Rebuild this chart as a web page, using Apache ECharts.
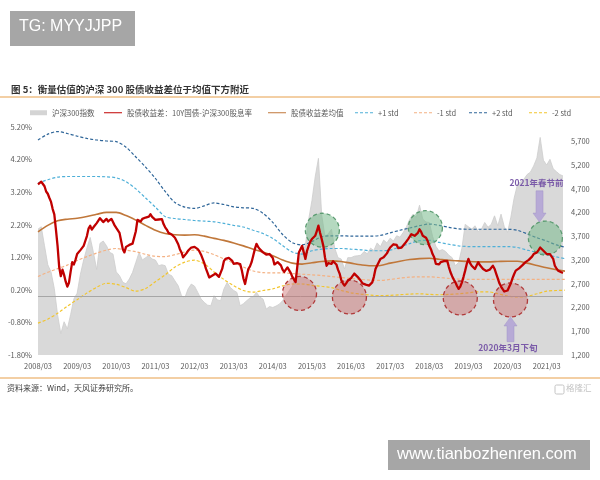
<!DOCTYPE html>
<html><head><meta charset="utf-8">
<script src="https://cdn.jsdelivr.net/npm/echarts@6/dist/echarts.min.js"></script>
<style>html,body{margin:0;padding:0;background:#fff}#c{width:600px;height:480px}</style>
</head><body><div id="c"></div>
<script>
// x values are months counted from 2008/03
const xTickLabels = ['2008/03','2009/03','2010/03','2011/03','2012/03','2013/03','2014/03','2015/03','2016/03','2017/03','2018/03','2019/03','2020/03','2021/03'];
const xMax = 161;

// 沪深300指数, monthly from 2008/03
const indexStep = 1;
const indexValues = [
3850,3900,3500,3100,2950,2600,2050,1650,1900,1750,2050,2380,2500,2900,3200,3450,3675,3360,3000,3550,
3600,3500,3360,3325,2950,2870,2730,2700,2800,2940,3150,3360,3200,3250,3290,3220,3200,3080,3100,
3080,2900,2870,2760,2657,2450,2400,2588,2693,2650,2518,2380,2307,2250,2237,2448,2360,2343,2588,2728,
2620,2560,2518,2237,2280,2343,2400,2430,2518,2420,2378,2167,2220,2200,2230,2270,2343,2450,
2550,2650,2870,3200,3400,3500,4050,4450,4950,5340,4150,3700,3750,3850,3450,3250,3220,3010,3250,3250,
3280,3290,3300,3380,3330,3450,3400,3560,3480,3620,3560,3660,3600,3710,3680,3780,3900,4060,4165,4100,
4354,4060,4000,3990,3700,3490,3390,3420,3380,3300,3250,3080,3150,
3450,3950,3900,3850,3920,3800,3850,3990,3890,3950,4130,3920,4165,3900,3780,4100,4500,4780,4850,4900,
5000,5050,5180,5350,5780,5300,5200,5320,5120,5060,5000,4970
];

// 股债收益差（%）, half-monthly from 2008/03
const spreadStep = 0.5;
const spreadValues = [
3.44,3.40,3.52,3.50,3.38,3.22,3.15,3.02,2.90,2.68,
2.52,2.05,1.55,0.90,0.62,0.82,0.66,0.45,0.30,0.42,
0.75,1.05,0.98,1.12,1.30,1.25,1.42,1.38,1.55,1.70,
1.85,2.08,2.17,2.05,2.12,2.08,2.25,2.30,2.40,2.35,
2.28,2.34,2.38,2.30,2.36,2.38,2.28,2.18,2.10,2.05,
1.95,1.70,1.45,1.35,1.52,1.48,1.58,1.55,1.62,1.68,
2.00,2.35,2.40,2.30,2.38,2.32,2.42,2.48,2.45,2.52,
2.44,2.40,2.35,2.30,2.36,2.32,2.37,2.22,2.12,2.05,
1.95,1.92,1.90,1.85,1.80,1.70,1.60,1.45,1.35,1.20,
1.22,1.32,1.40,1.45,1.50,1.55,1.52,1.48,1.45,1.38,
1.28,1.15,1.02,0.85,0.72,0.58,0.56,0.64,0.60,0.70,
0.66,0.60,0.65,0.85,1.08,1.15,1.10,1.18,1.20,1.10,
1.00,0.94,1.02,0.96,0.99,0.80,0.55,0.38,0.62,0.84,
0.92,1.05,1.25,1.45,1.61,1.52,1.45,1.40,1.35,1.30,
1.28,1.22,1.30,1.25,1.18,0.98,0.94,1.05,1.00,0.95,
0.82,0.75,0.80,0.89,0.85,0.72,0.60,0.54,0.44,0.90,
1.35,1.45,1.55,1.35,1.15,1.40,1.55,1.68,1.76,1.70,
1.86,2.00,2.17,1.95,1.76,1.55,1.20,0.94,1.02,0.96,
1.00,1.08,1.05,0.98,0.82,0.70,0.50,0.40,0.33,0.40,
0.48,0.52,0.56,0.62,0.70,0.74,0.60,0.54,0.48,0.40,
0.38,0.36,0.34,0.33,0.38,0.43,0.60,0.84,0.95,1.05,
1.15,1.12,1.20,1.25,1.32,1.42,1.50,1.55,1.60,1.66,
1.58,1.48,1.45,1.50,1.55,1.62,1.68,1.76,1.82,1.91,
1.88,1.86,1.86,1.95,2.06,1.98,1.86,1.85,1.80,1.70,
1.55,1.45,1.30,1.20,1.00,0.94,0.98,1.05,1.02,1.08,
1.05,1.09,0.90,0.74,0.62,0.52,0.43,0.32,0.23,0.30,
0.43,0.60,0.79,1.00,1.15,1.02,0.94,0.90,0.84,0.95,
1.05,0.96,0.90,0.84,0.80,0.78,0.74,0.82,0.88,0.94,
0.85,0.70,0.55,0.40,0.30,0.22,0.15,0.13,0.18,0.23,
0.40,0.55,0.68,0.79,0.82,0.86,0.89,0.95,1.00,1.05,
1.08,1.12,1.15,1.22,1.30,1.32,1.35,1.42,1.50,1.45,
1.40,1.36,1.30,1.28,1.30,1.25,1.15,0.94,0.86,0.79,
0.76,0.74,0.72
];

// 均值与标准差带（%）, quarterly from 2008/03
const bandStep = 3;
const meanValues = [1.98,2.18,2.32,2.37,2.40,2.45,2.52,2.58,2.58,2.48,2.34,2.18,2.03,1.93,1.89,1.88,1.89,1.85,1.78,1.72,1.64,1.55,1.45,1.36,1.25,1.12,1.02,0.99,1.03,1.07,1.09,1.07,1.02,0.97,0.94,0.95,1.02,1.08,1.13,1.16,1.17,1.14,1.11,1.09,1.07,1.06,1.06,1.07,1.08,1.08,1.02,0.95,0.88,0.82,0.77];
const plus1Values = [3.48,3.58,3.66,3.68,3.68,3.68,3.68,3.67,3.64,3.52,3.30,3.02,2.74,2.45,2.39,2.36,2.33,2.31,2.29,2.24,2.18,2.13,2.03,1.93,1.78,1.56,1.36,1.30,1.40,1.45,1.47,1.47,1.45,1.43,1.40,1.40,1.42,1.52,1.62,1.71,1.72,1.66,1.60,1.55,1.53,1.53,1.53,1.53,1.53,1.50,1.42,1.35,1.28,1.21,1.15];
const minus1Values = [0.61,0.74,0.85,0.96,1.10,1.22,1.33,1.42,1.47,1.42,1.37,1.29,1.23,1.22,1.28,1.36,1.42,1.38,1.28,1.15,1.02,0.90,0.78,0.73,0.72,0.72,0.70,0.68,0.66,0.64,0.61,0.58,0.55,0.52,0.50,0.49,0.52,0.56,0.59,0.60,0.60,0.58,0.55,0.53,0.52,0.52,0.52,0.52,0.52,0.52,0.52,0.52,0.52,0.52,0.52];
const plus2Values = [4.80,4.98,5.06,5.00,4.92,4.85,4.80,4.77,4.75,4.58,4.28,3.97,3.62,3.22,2.88,2.74,2.70,2.78,2.87,2.82,2.75,2.72,2.70,2.55,2.27,1.90,1.65,1.58,1.68,1.83,1.86,1.86,1.85,1.85,1.85,1.87,1.95,2.03,2.10,2.17,2.22,2.18,2.12,2.07,2.06,2.06,2.06,2.06,2.06,2.03,1.92,1.80,1.70,1.58,1.50];
const minus2Values = [-0.82,-0.70,-0.52,-0.30,-0.10,0.10,0.28,0.40,0.37,0.27,0.16,0.24,0.45,0.66,0.90,1.05,1.11,1.00,0.75,0.52,0.33,0.18,0.13,0.18,0.23,0.32,0.38,0.38,0.34,0.31,0.27,0.18,0.11,0.07,0.04,0.02,0.03,0.05,0.07,0.08,0.06,0.05,0.06,0.08,0.11,0.14,0.14,0.08,0.01,-0.02,0.00,0.08,0.16,0.18,0.19];

// annotation circles [month, spread %]
const highCircles = [[87.2,2.03],[118.8,2.11],[155.6,1.79]];
const lowCircles = [[80.2,0.09],[95.5,-0.02],[129.5,-0.05],[144.9,-0.11]];

const names = ['沪深300指数','股债收益差：10Y国债-沪深300股息率','股债收益差均值','+1 std','-1 std','+2 std','-2 std'];
const legendLeft = [30,104,268,355,414,469,529];

const toPairs = (arr, step) => arr.map((v,i)=>[i*step, v]);
const font = '"Noto Sans CJK SC","Liberation Sans",sans-serif';

const solidIcon = 'path://M0,0H18V1H0Z';
const dashIcon = 'path://M0,0H3V1H0Z M5,0H8V1H5Z M10,0H13V1H10Z M15,0H18V1H15Z';
const legendIcons = ['rect', solidIcon, solidIcon, dashIcon, dashIcon, dashIcon, dashIcon];
const legendHeights = [5, 2.5, 2, 1.3, 1.3, 1.3, 1.3];

const chart = echarts.init(document.getElementById('c'), null, {renderer:'canvas'});

const dashLine = (color) => ({color, width:1.2, type:[3,2]});

const option = {
  animation:false,
  backgroundColor:'#fff',
  textStyle:{fontFamily:font},
  title:{text:'图 5：衡量估值的沪深 300 股债收益差位于均值下方附近', left:6, top:80,
    textStyle:{fontSize:9.5, fontWeight:'bold', color:'#333', fontFamily:font}},
  grid:{left:38, right:37, top:127, bottom:125, containLabel:false},
  legend: names.map((n,i)=>({
    data:[{name:n, icon:legendIcons[i]}], left:legendLeft[i], top:109, padding:0,
    itemWidth: i===0?17:18, itemHeight: legendHeights[i], selectedMode:false,
    textStyle:{fontSize:7.5, color:'#595959', fontFamily:font}
  })),
  xAxis:{type:'value', min:0, max:xMax, interval:12,
    axisLine:{show:false}, axisTick:{show:false}, splitLine:{show:false},
    axisLabel:{fontSize:7.5, color:'#595959', margin:7, showMaxLabel:false,
      formatter:v=> (v%12===0 && xTickLabels[v/12]) ? xTickLabels[v/12] : ''}},
  yAxis:[
    {type:'value', min:-1.8, max:5.2, interval:1, position:'left',
      axisLine:{show:false}, axisTick:{show:false}, splitLine:{show:false},
      axisLabel:{fontSize:7.5, color:'#595959', margin:6, formatter:v=>v.toFixed(2)+'%'}},
    {type:'value', min:1200, max:6000, interval:500, position:'right',
      axisLine:{show:false}, axisTick:{show:false}, splitLine:{show:false},
      axisLabel:{fontSize:7.5, color:'#595959', margin:8, showMaxLabel:false,
        formatter:v=>v.toLocaleString('en-US')}}
  ],
  series:[
    {name:names[0], type:'line', yAxisIndex:1, data:toPairs(indexValues,indexStep),
      symbol:'none', color:'#d9d9d9', itemStyle:{color:'#d4d4d4'},
      lineStyle:{color:'#cdcdcd', width:0.8}, areaStyle:{color:'#d9d9d9', opacity:1}, z:1},
    {name:names[6], type:'line', data:toPairs(minus2Values,bandStep), symbol:'none', smooth:0.3,
      color:'#f2c52e', itemStyle:{color:'#f2c52e'}, lineStyle:dashLine('#f2c52e'), z:3,
      markLine:{silent:true, symbol:'none', label:{show:false},
        lineStyle:{color:'#a6a6a6', width:1, type:'solid'}, data:[{yAxis:0}]}},
    {name:names[4], type:'line', data:toPairs(minus1Values,bandStep), symbol:'none', smooth:0.3,
      color:'#f4b183', itemStyle:{color:'#f4b183'}, lineStyle:dashLine('#f4b183'), z:3},
    {name:names[5], type:'line', data:toPairs(plus2Values,bandStep), symbol:'none', smooth:0.3,
      color:'#2f6699', itemStyle:{color:'#2f6699'}, lineStyle:dashLine('#2f6699'), z:3},
    {name:names[3], type:'line', data:toPairs(plus1Values,bandStep), symbol:'none', smooth:0.3,
      color:'#4fb0d8', itemStyle:{color:'#4fb0d8'}, lineStyle:dashLine('#4fb0d8'), z:3},
    {name:names[2], type:'line', data:toPairs(meanValues,bandStep), symbol:'none', smooth:0.3,
      color:'#c0773a', itemStyle:{color:'#c0773a'}, lineStyle:{color:'#c0773a', width:1.6}, z:4},
    {name:names[1], type:'line', data:toPairs(spreadValues,spreadStep), symbol:'none',
      color:'#c00000', itemStyle:{color:'#c00000'}, lineStyle:{color:'#c00000', width:2.3, join:'round'}, z:5,
      markPoint:{silent:true, symbol:'circle', symbolSize:34, label:{show:false},
        data: highCircles.map(c=>({coord:c, itemStyle:{color:'rgba(120,185,140,0.55)', borderColor:'#5c9c72', borderWidth:1.3, borderType:[4,3]}}))
          .concat(lowCircles.map(c=>({coord:c, itemStyle:{color:'rgba(205,110,110,0.45)', borderColor:'#b03a3a', borderWidth:1.3, borderType:[4,3]}})))
      }}
  ]
};
chart.setOption(option);

// annotations placed through the chart's own coordinate conversion
const px = (m,v)=>chart.convertToPixel({gridIndex:0},[m,v]);
function arrow(m, vFrom, vTo){
  const a = px(m,vFrom), b = px(m,vTo);
  const x = a[0], y1 = a[1], y2 = b[1];
  const dir = y2>y1?1:-1, hl = 9*dir;
  return {type:'polygon', z:10, shape:{points:[[x-3.5,y1],[x+3.5,y1],[x+3.5,y2-hl],[x+6.5,y2-hl],[x,y2],[x-6.5,y2-hl],[x-3.5,y2-hl]]},
    style:{fill:'#b7aad6', stroke:'#a395c9', lineWidth:0.5}};
}
const t1 = px(152.9,3.50), t2 = px(144.1,-1.57);
chart.setOption({graphic:[
  {type:'rect', shape:{x:10,y:11,width:125,height:35}, style:{fill:'#a6a6a6'}},
  {type:'text', left:19, top:19, style:{text:'TG: MYYJJPP', fill:'#fff', fontSize:16, fontFamily:'"Liberation Sans",Arial,sans-serif'}},
  {type:'line', shape:{x1:0,y1:97,x2:600,y2:97}, style:{stroke:'#efbf86', lineWidth:1.5}},
  {type:'line', shape:{x1:0,y1:378,x2:600,y2:378}, style:{stroke:'#efbf86', lineWidth:1.5}},
  {type:'text', left:7, top:384, style:{text:'资料来源：Wind，天风证券研究所。', fill:'#404040', fontSize:8, fontFamily:font}},
  {type:'rect', shape:{x:555,y:385,width:9,height:9,r:1.5}, style:{fill:'none', stroke:'#c4c4c4', lineWidth:1}},
  {type:'text', left:566, top:384, style:{text:'格隆汇', fill:'#c4c4c4', fontSize:8.5, fontFamily:font}},
  {type:'rect', shape:{x:388,y:440,width:202,height:30}, style:{fill:'#a6a6a6'}},
  {type:'text', left:397, top:446, style:{text:'www.tianbozhenren.com', fill:'#fff', fontSize:16.5, fontFamily:'"Liberation Sans",Arial,sans-serif'}},
  arrow(153.8, 3.24, 2.28),
  arrow(144.9, -1.39, -0.63),
  {type:'text', z:11, x:t1[0], y:t1[1], style:{text:'2021年春节前', fill:'#7a5aa8', fontSize:8.5, fontWeight:'bold', align:'center', verticalAlign:'middle', fontFamily:font}},
  {type:'text', z:11, x:t2[0], y:t2[1], style:{text:'2020年3月下旬', fill:'#7a5aa8', fontSize:8.5, fontWeight:'bold', align:'center', verticalAlign:'middle', fontFamily:font}}
]});
</script></body></html>
